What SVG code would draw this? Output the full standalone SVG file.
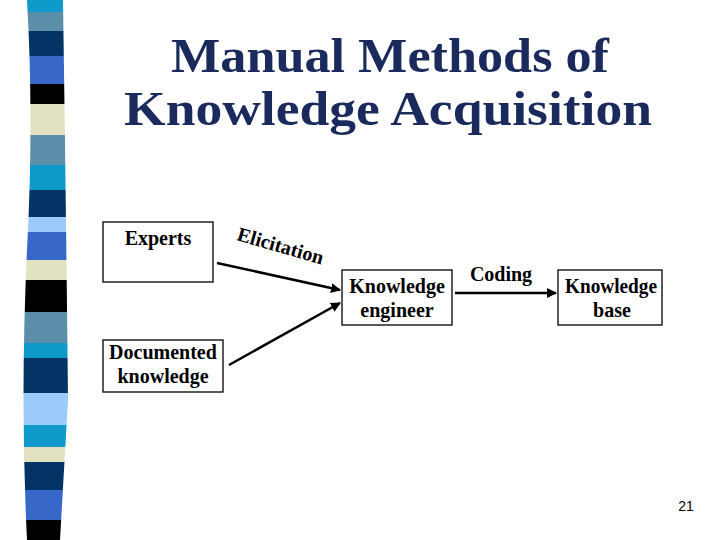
<svg xmlns="http://www.w3.org/2000/svg" width="720" height="540" viewBox="0 0 720 540">
<defs>
<marker id="ah" viewBox="0 0 10 10" refX="9" refY="5" markerWidth="4" markerHeight="4" orient="auto" markerUnits="strokeWidth">
<path d="M0,0 L10,5 L0,10 z" fill="#000"/>
</marker>
<clipPath id="stripe">
<path d="M27,0 L63,0 Q66,200 68,400 L60,540 L27,540 Q20,400 27,250 Q34,120 27,0 z"/>
</clipPath>
<style>
.box{fill:#fff;stroke:#000;stroke-width:1.3}
.lbl{font-family:"Liberation Serif","Times New Roman",serif;font-weight:bold;font-size:20px;fill:#000;text-anchor:middle}
.title{font-family:"Liberation Serif","Times New Roman",serif;font-weight:bold;font-size:48px;fill:#1b2a5c;text-anchor:middle}
.con{stroke:#000;stroke-width:2.5;fill:none}
</style>
</defs>
<rect width="720" height="540" fill="#fff"/>
<g id="stripe-bar" clip-path="url(#stripe)">
<rect x="0" y="0" width="90" height="12" fill="#0f9acb"/>
<rect x="0" y="12" width="90" height="19" fill="#5b8ea8"/>
<rect x="0" y="31" width="90" height="25" fill="#043366"/>
<rect x="0" y="56" width="90" height="28" fill="#3767c9"/>
<rect x="0" y="84" width="90" height="20" fill="#000"/>
<rect x="0" y="104" width="90" height="31" fill="#e2e2c2"/>
<rect x="0" y="135" width="90" height="30" fill="#5b8ea8"/>
<rect x="0" y="165" width="90" height="25" fill="#0f9acb"/>
<rect x="0" y="190" width="90" height="27" fill="#043366"/>
<rect x="0" y="217" width="90" height="15" fill="#9ccbfa"/>
<rect x="0" y="232" width="90" height="28" fill="#3767c9"/>
<rect x="0" y="260" width="90" height="20" fill="#e2e2c2"/>
<rect x="0" y="280" width="90" height="32" fill="#000"/>
<rect x="0" y="312" width="90" height="31" fill="#5b8ea8"/>
<rect x="0" y="343" width="90" height="15" fill="#0f9acb"/>
<rect x="0" y="358" width="90" height="35" fill="#043366"/>
<rect x="0" y="393" width="90" height="32" fill="#9ccbfa"/>
<rect x="0" y="425" width="90" height="22" fill="#0f9acb"/>
<rect x="0" y="447" width="90" height="15" fill="#e2e2c2"/>
<rect x="0" y="462" width="90" height="28" fill="#043366"/>
<rect x="0" y="490" width="90" height="30" fill="#3767c9"/>
<rect x="0" y="520" width="90" height="20" fill="#000"/>
</g>
<g id="title">
<text class="title" x="390" y="72" textLength="438" lengthAdjust="spacingAndGlyphs">Manual Methods of</text>
<text class="title" x="388" y="125" textLength="528" lengthAdjust="spacingAndGlyphs">Knowledge Acquisition</text>
</g>
<g id="connectors">
<line class="con" x1="217" y1="263" x2="340" y2="290" marker-end="url(#ah)"/>
<line class="con" x1="229" y1="365" x2="340" y2="303" marker-end="url(#ah)"/>
<line class="con" x1="455" y1="293" x2="556" y2="293" marker-end="url(#ah)"/>
<text class="lbl" x="236" y="240" transform="rotate(16 236 240)" style="text-anchor:start">Elicitation</text>
<text class="lbl" x="501" y="281">Coding</text>
</g>
<g id="experts">
<rect class="box" x="103" y="222" width="110" height="60"/>
<text class="lbl" x="158" y="245">Experts</text>
</g>
<g id="knowledge-engineer">
<rect class="box" x="342" y="270" width="110" height="55"/>
<text class="lbl" x="397" y="293">Knowledge</text>
<text class="lbl" x="397" y="317">engineer</text>
</g>
<g id="knowledge-base">
<rect class="box" x="558" y="270" width="104" height="55"/>
<text class="lbl" x="611" y="293" textLength="92" lengthAdjust="spacingAndGlyphs">Knowledge</text>
<text class="lbl" x="612" y="317">base</text>
</g>
<g id="documented-knowledge">
<rect class="box" x="103" y="340" width="120" height="52"/>
<text class="lbl" x="163" y="359">Documented</text>
<text class="lbl" x="163" y="383">knowledge</text>
</g>
<text x="686" y="511" style="font-family:'Liberation Sans',Arial,sans-serif;font-size:14px;text-anchor:middle;fill:#000">21</text>
</svg>
